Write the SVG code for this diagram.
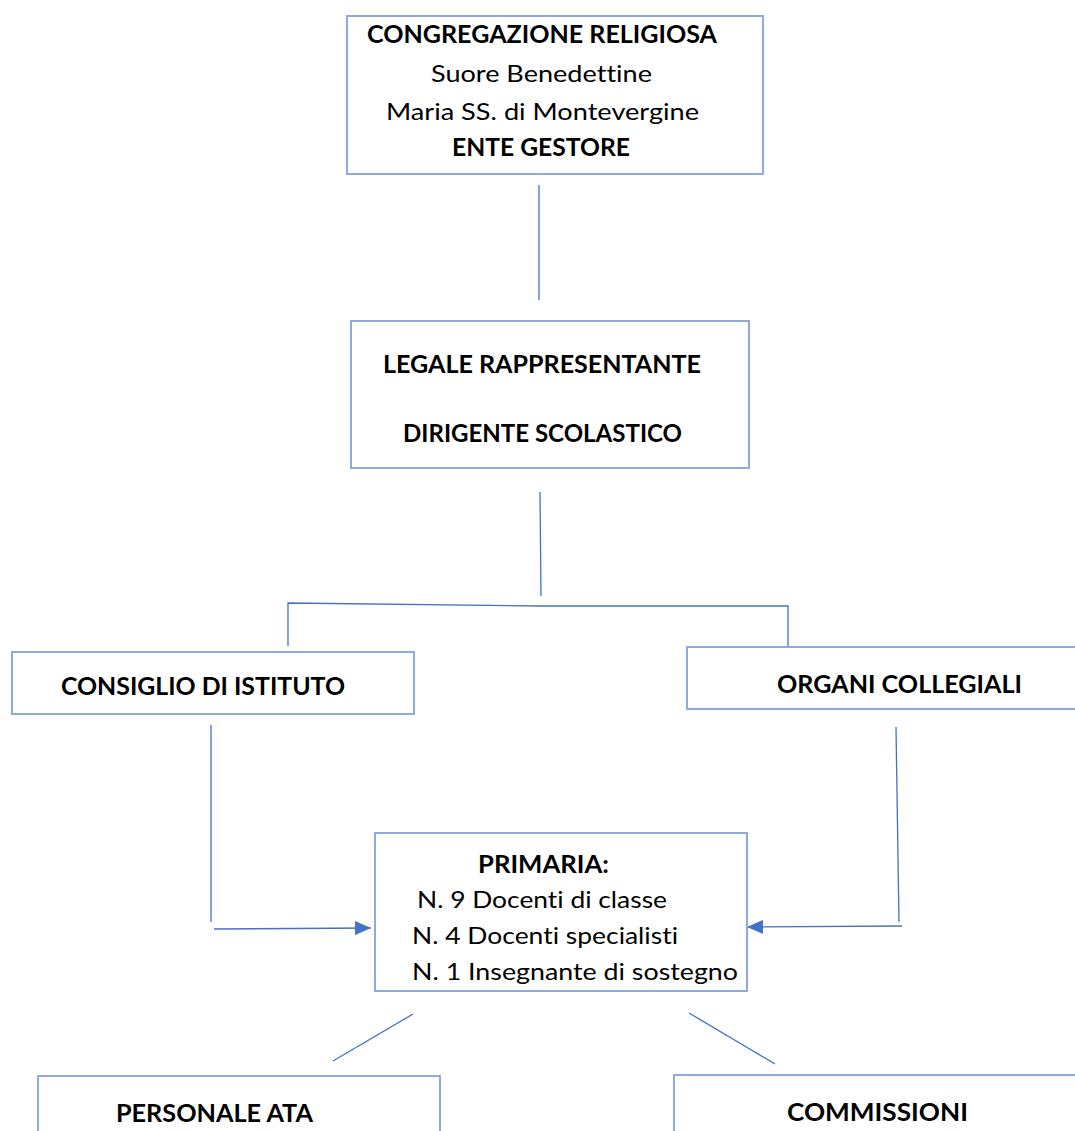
<svg xmlns="http://www.w3.org/2000/svg" width="1075" height="1131" viewBox="0 0 1075 1131">
<style>
.box{fill:#fff;stroke:#8FAADC;stroke-width:2}
.c{fill:none;stroke:#4472C4;stroke-width:1.3}
text{font-family:Lato,"Open Sans","Liberation Sans",sans-serif;font-size:24px;fill:#000;font-variant-ligatures:none;font-feature-settings:"liga" 0,"clig" 0,"dlig" 0}
.b{font-weight:bold;font-size:25.5px}
</style>
<defs>
<marker id="ah" viewBox="0 0 10 10" refX="10" refY="5" markerWidth="16" markerHeight="14" markerUnits="userSpaceOnUse" orient="auto" preserveAspectRatio="none">
<path d="M0,0 L10,5 L0,10 Z" fill="#4472C4"/>
</marker>
</defs>
<rect width="1075" height="1131" fill="#fff"/>
<g id="connectors">
<path class="c" d="M539,185 L539,300"/>
<path class="c" d="M540,492 L541,596"/>
<path class="c" d="M288,646 L288,603 L540,606 L788,606 L788,647 L1035,647"/>
<path class="c" d="M211,725 L211,922"/>
<path class="c" d="M214,929 L371,928" marker-end="url(#ah)"/>
<path class="c" d="M896,727 L899,922"/>
<path class="c" d="M902,926 L747,927" marker-end="url(#ah)"/>
<path class="c" d="M413,1014 L333,1061"/>
<path class="c" d="M689,1013 L775,1064"/>
</g>
<g id="node-congregazione">
<rect class="box" x="347" y="16" width="416" height="158"/>
<text class="b" x="367" y="43" textLength="350" lengthAdjust="spacingAndGlyphs">CONGREGAZIONE RELIGIOSA</text>
<text x="431" y="82" textLength="221" lengthAdjust="spacingAndGlyphs">Suore Benedettine</text>
<text x="386" y="120" textLength="313" lengthAdjust="spacingAndGlyphs">Maria SS. di Montevergine</text>
<text class="b" x="452" y="156" textLength="178" lengthAdjust="spacingAndGlyphs">ENTE GESTORE</text>
</g>
<g id="node-legale">
<rect class="box" x="351" y="321" width="398" height="147"/>
<text class="b" x="383" y="373" textLength="318" lengthAdjust="spacingAndGlyphs">LEGALE RAPPRESENTANTE</text>
<text class="b" x="403" y="442" textLength="279" lengthAdjust="spacingAndGlyphs">DIRIGENTE SCOLASTICO</text>
</g>
<g id="node-consiglio">
<rect class="box" x="12" y="652" width="402" height="62"/>
<text class="b" x="61" y="695" textLength="284" lengthAdjust="spacingAndGlyphs">CONSIGLIO DI ISTITUTO</text>
</g>
<g id="node-organi">
<rect class="box" x="687" y="647" width="400" height="62"/>
<text class="b" x="777" y="693" textLength="245" lengthAdjust="spacingAndGlyphs">ORGANI COLLEGIALI</text>
</g>
<g id="node-primaria">
<rect class="box" x="375" y="833" width="372" height="158"/>
<text class="b" x="478" y="873" textLength="131" lengthAdjust="spacingAndGlyphs">PRIMARIA:</text>
<text x="417" y="908" textLength="250" lengthAdjust="spacingAndGlyphs">N. 9 Docenti di classe</text>
<text x="412" y="944" textLength="266" lengthAdjust="spacingAndGlyphs">N. 4 Docenti specialisti</text>
<text x="412" y="980" textLength="326" lengthAdjust="spacingAndGlyphs">N. 1 Insegnante di sostegno</text>
</g>
<g id="node-personale">
<rect class="box" x="38" y="1076" width="402" height="80"/>
<text class="b" x="116" y="1122" textLength="197" lengthAdjust="spacingAndGlyphs">PERSONALE ATA</text>
</g>
<g id="node-commissioni">
<rect class="box" x="674" y="1075" width="420" height="80"/>
<text class="b" x="787" y="1121" textLength="181" lengthAdjust="spacingAndGlyphs">COMMISSIONI</text>
</g>
</svg>
